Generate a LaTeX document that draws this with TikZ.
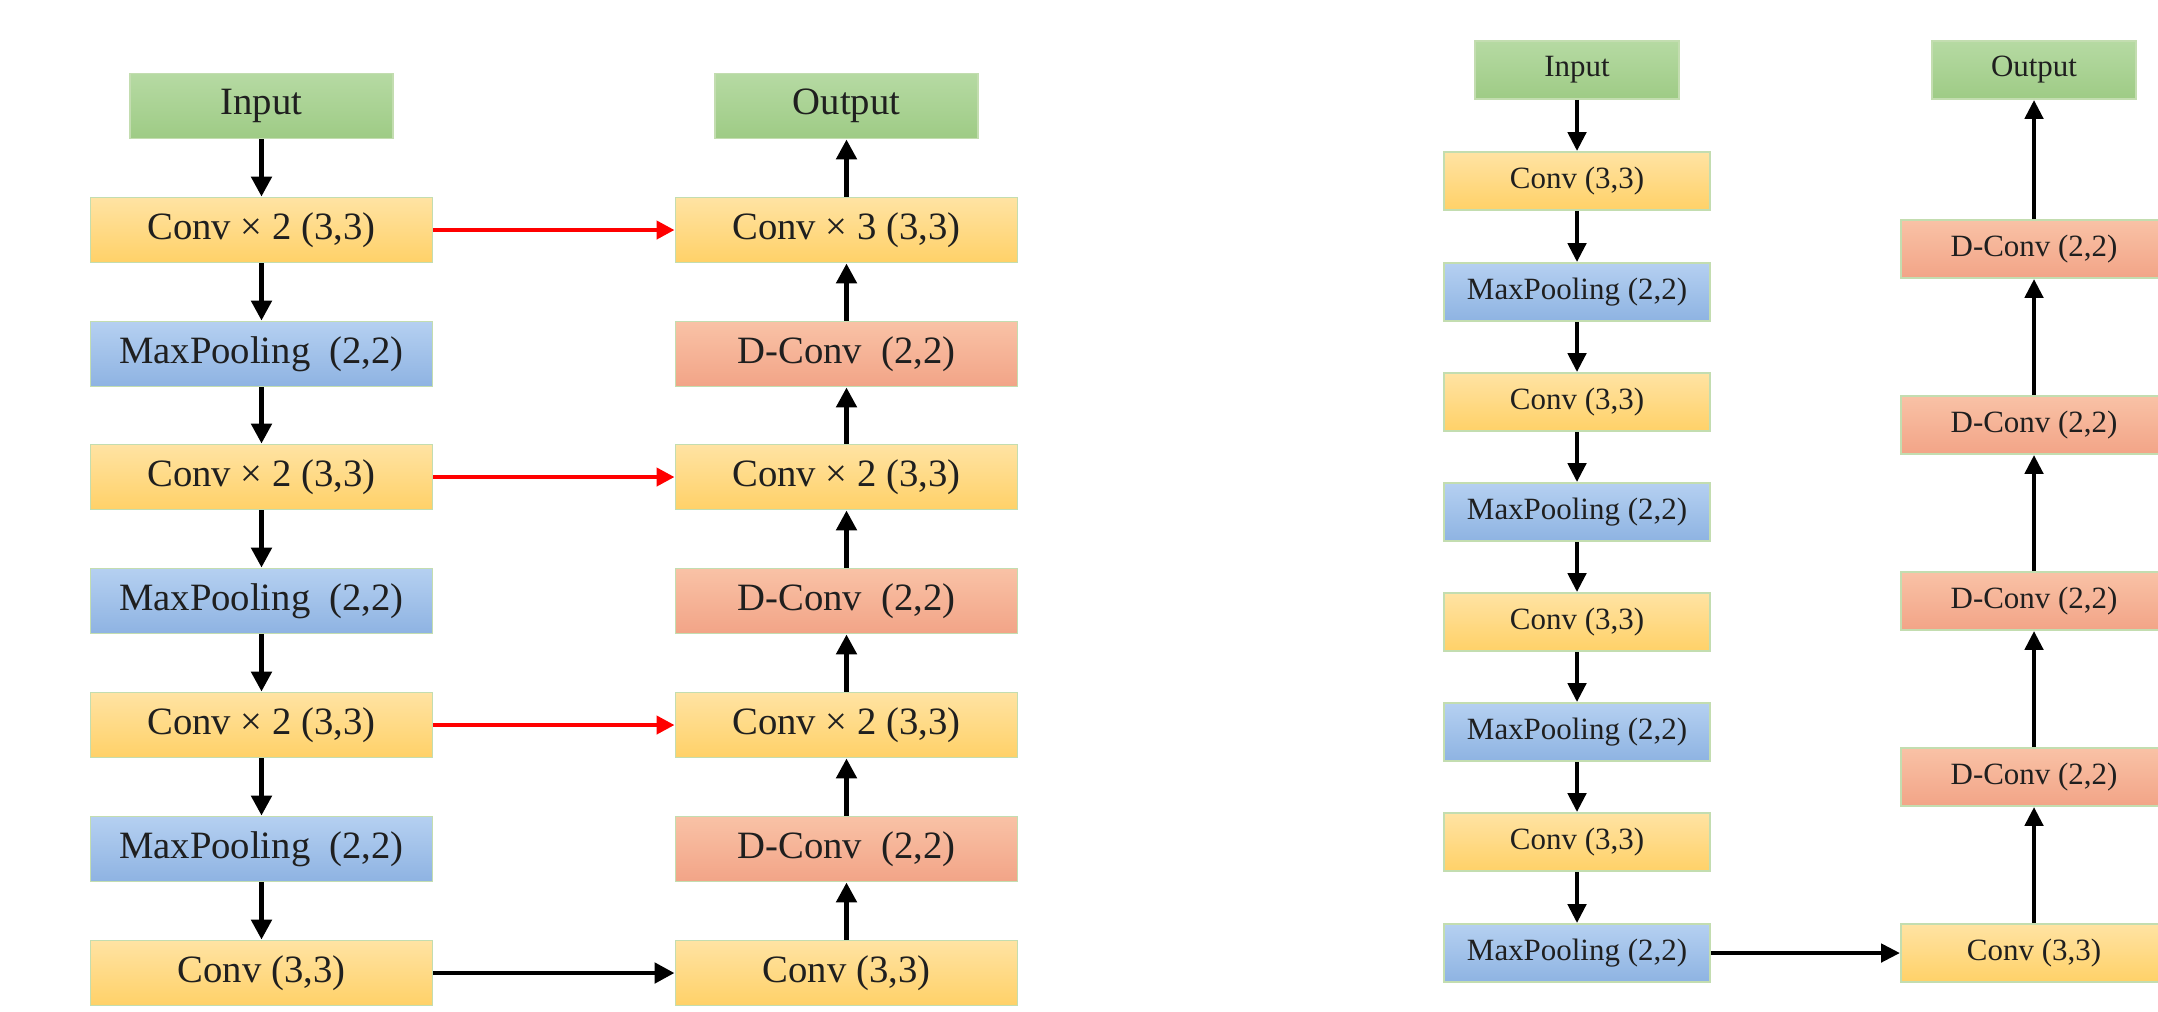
\documentclass[tikz,border=0pt]{standalone}
\usepackage{fontspec}
\setmainfont{Liberation Serif}
\usepackage{xcolor}
\usetikzlibrary{arrows.meta}

\definecolor{edge}{HTML}{C3DDB0}
\definecolor{greenT}{HTML}{B6DAA3}
\definecolor{greenB}{HTML}{9ECB85}
\definecolor{yellowT}{HTML}{FFE3A3}
\definecolor{yellowB}{HTML}{FFD168}
\definecolor{blueT}{HTML}{B5D0F1}
\definecolor{blueB}{HTML}{8EB3E2}
\definecolor{redT}{HTML}{F9C2A6}
\definecolor{redB}{HTML}{F2A487}

\begin{document}
\begin{tikzpicture}[x=0.01cm, y=-0.01cm,
    box/.style={draw=edge, line width=0.5pt, inner sep=0pt, text=black!88},
    io/.style={box, top color=greenT, bottom color=greenB},
    conv/.style={box, top color=yellowT, bottom color=yellowB},
    pool/.style={box, top color=blueT, bottom color=blueB},
    dconv/.style={box, top color=redT, bottom color=redB},
    big/.style={minimum width=3.42cm, minimum height=0.65cm, font=\fontsize{11}{13}\selectfont},
    bigio/.style={minimum width=2.63cm, minimum height=0.65cm, font=\fontsize{11}{13}\selectfont},
    small/.style={minimum width=2.66cm, minimum height=0.58cm, font=\fontsize{8.8}{10}\selectfont},
    smallio/.style={minimum width=2.04cm, minimum height=0.58cm, font=\fontsize{8.8}{10}\selectfont},
    flow/.style={line width=1.4pt, -{Triangle[length=0.2cm, width=0.2cm]}},
    skip/.style={red, line width=1.2pt, -{Triangle[length=0.18cm, width=0.18cm]}},
    thin flow/.style={line width=1.3pt, -{Triangle[length=0.19cm, width=0.18cm]}}]
  \useasboundingbox (0,0) rectangle (2158,1011);

  % left network: encoder
  \def\xa{261.5}
  \def\xb{846.5}
  \node[io, bigio] (in) at (\xa,106) {Input};
  \node[conv, big] (e1) at (\xa,230) {Conv × 2 (3,3)};
  \node[pool, big] (e2) at (\xa,354) {MaxPooling\ \ (2,2)};
  \node[conv, big] (e3) at (\xa,477) {Conv × 2 (3,3)};
  \node[pool, big] (e4) at (\xa,601) {MaxPooling\ \ (2,2)};
  \node[conv, big] (e5) at (\xa,725) {Conv × 2 (3,3)};
  \node[pool, big] (e6) at (\xa,849) {MaxPooling\ \ (2,2)};
  \node[conv, big] (e7) at (\xa,973) {Conv (3,3)};

  % left network: decoder
  \node[io, bigio] (out) at (\xb,106) {Output};
  \node[conv, big] (d1) at (\xb,230) {Conv × 3 (3,3)};
  \node[dconv, big] (d2) at (\xb,354) {D-Conv\ \ (2,2)};
  \node[conv, big] (d3) at (\xb,477) {Conv × 2 (3,3)};
  \node[dconv, big] (d4) at (\xb,601) {D-Conv\ \ (2,2)};
  \node[conv, big] (d5) at (\xb,725) {Conv × 2 (3,3)};
  \node[dconv, big] (d6) at (\xb,849) {D-Conv\ \ (2,2)};
  \node[conv, big] (d7) at (\xb,973) {Conv (3,3)};

  \foreach \a/\b in {in/e1, e1/e2, e2/e3, e3/e4, e4/e5, e5/e6, e6/e7,
                     d7/d6, d6/d5, d5/d4, d4/d3, d3/d2, d2/d1, d1/out, e7/d7}
    \draw[flow] (\a) -- (\b);
  \foreach \a/\b in {e1/d1, e3/d3, e5/d5}
    \draw[skip] (\a) -- (\b);

  % right network
  \def\xc{1577}
  \def\xd{2034}
  \node[io, smallio] (rin) at (\xc,70) {Input};
  \node[conv, small] (r1) at (\xc,181) {Conv (3,3)};
  \node[pool, small] (r2) at (\xc,292) {MaxPooling (2,2)};
  \node[conv, small] (r3) at (\xc,402) {Conv (3,3)};
  \node[pool, small] (r4) at (\xc,512) {MaxPooling (2,2)};
  \node[conv, small] (r5) at (\xc,622) {Conv (3,3)};
  \node[pool, small] (r6) at (\xc,732) {MaxPooling (2,2)};
  \node[conv, small] (r7) at (\xc,842) {Conv (3,3)};
  \node[pool, small] (r8) at (\xc,953) {MaxPooling (2,2)};

  \node[io, smallio] (rout) at (\xd,70) {Output};
  \node[dconv, small] (u1) at (\xd,249) {D-Conv (2,2)};
  \node[dconv, small] (u2) at (\xd,425) {D-Conv (2,2)};
  \node[dconv, small] (u3) at (\xd,601) {D-Conv (2,2)};
  \node[dconv, small] (u4) at (\xd,777) {D-Conv (2,2)};
  \node[conv, small] (u5) at (\xd,953) {Conv (3,3)};

  \foreach \a/\b in {rin/r1, r1/r2, r2/r3, r3/r4, r4/r5, r5/r6, r6/r7, r7/r8,
                     r8/u5, u5/u4, u4/u3, u3/u2, u2/u1, u1/rout}
    \draw[thin flow] (\a) -- (\b);
\end{tikzpicture}
\end{document}
